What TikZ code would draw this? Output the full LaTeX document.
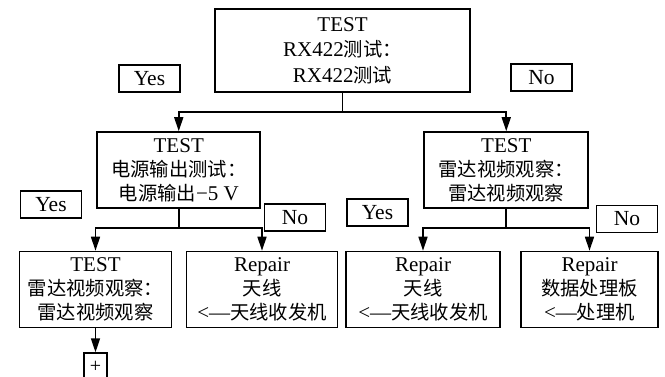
\documentclass[tikz,border=0pt]{standalone}
\usepackage{fontspec}
\setmainfont{Liberation Serif}
\newfontfamily\cjk{Noto Sans CJK SC}[Scale=0.92]
\newcommand\zh[1]{{\cjk #1}}
\usetikzlibrary{arrows.meta,positioning}

\begin{document}
\begin{tikzpicture}[x=1pt,y=1pt,
	box/.style={draw,line width=1.6pt,align=center,minimum height=76pt,inner sep=2pt,font=\fontsize{21}{24}\selectfont},
	lbl/.style={draw,line width=1.6pt,minimum width=61pt,minimum height=27pt,inner sep=0pt,font=\fontsize{21.5}{24}\selectfont},
	level distance=119.5pt,
	level 1/.style={sibling distance=327.5pt},
	level 2/.style={sibling distance=166.5pt,xshift=-3.5pt},
	edge from parent/.style={draw,line width=1.6pt,-{Triangle[length=14pt,width=9pt]}},
	edge from parent path={(\tikzparentnode.south) -- ++(0,-19) -| (\tikzchildnode.north)}]
			\useasboundingbox (0,0) rectangle (665,-376);
			\clip (0,0) rectangle (665,-376);
			\node[box,minimum width=255pt,minimum height=83pt,font=\fontsize{21}{25.5}\selectfont] (rx) at (342.5,-50.5) {TEST\\RX422\zh{测试：}\\RX422\zh{测试}}
			child {node[box,minimum width=163pt] (power) {TEST\\\zh{电源输出测试：}\\\zh{电源输出}−5 V}
				child {node[box,minimum width=152pt] (radarA) {TEST\\\zh{雷达视频观察：}\\\zh{雷达视频观察}}}
				child {node[box,minimum width=151pt] (antA) {Repair\\\zh{天线}\\<—\zh{天线收发机}}}
			}
			child {node[box,minimum width=164pt] (radar) {TEST\\\zh{雷达视频观察：}\\\zh{雷达视频观察}}
				child {node[box,minimum width=154pt] (antB) {Repair\\\zh{天线}\\<—\zh{天线收发机}}}
				child {node[box,minimum width=137pt] (board) {Repair\\\zh{数据处理板}\\<—\zh{处理机}}}
			};
			\node[lbl] (yesRx) at (149.5,-78.5) {Yes};
			\node[lbl] (noRx) at (541.5,-77.5) {No};
			\node[lbl] (yesPower) at (51,-204.5) {Yes};
			\node[lbl] (noPower) at (295,-217.5) {No};
			\node[lbl] (yesRadar) at (377.5,-212.5) {Yes};
			\node[lbl] (noRadar) at (627,-219) {No};
			\node[draw,line width=1.6pt,minimum width=23pt,minimum height=30pt,inner sep=0pt,font=\fontsize{20}{20}\selectfont,below=24pt of radarA] (more) {\raisebox{3pt}{+}};
			\draw[line width=1.6pt,-{Triangle[length=14pt,width=9pt]}] (radarA.south) -- (more.north);
			\end{tikzpicture}
\end{document}
